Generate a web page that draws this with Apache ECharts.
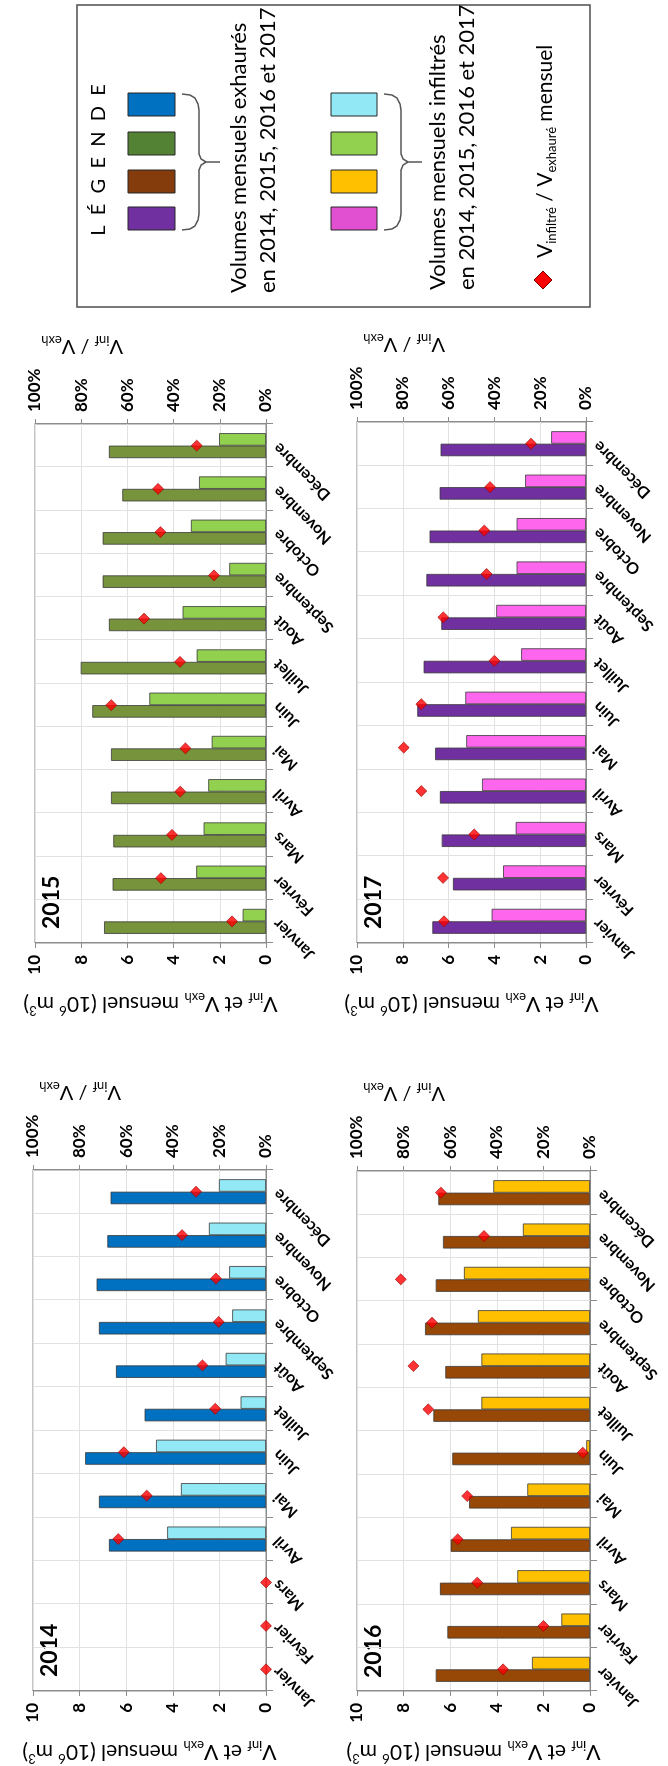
<!DOCTYPE html>
<html><head><meta charset="utf-8">
<script src="https://cdn.jsdelivr.net/npm/echarts/dist/echarts.min.js"></script>
<style>
html,body{margin:0;padding:0;width:668px;height:1766px;overflow:hidden;background:#fff;}
#chart{position:absolute;left:0;top:0;width:1766px;height:668px;transform-origin:0 0;transform:translate(0,1766px) rotate(-90deg);}
</style></head><body><div id="chart"></div>
<script>
// ---- data ----
const months = ['Janvier','Février','Mars','Avril','Mai','Juin','Juillet','Août','Septembre','Octobre','Novembre','Décembre'];
const volTicks = [0, 2, 4, 6, 8, 10];
const pctTicks = [0, 20, 40, 60, 80, 100];
const years = ['2014', '2015', '2016', '2017'];

const exh2014 = [null, null, null, 6.74, 7.17, 7.76, 5.21, 6.44, 7.17, 7.27, 6.81, 6.67];
const inf2014 = [null, null, null, 4.24, 3.65, 4.72, 1.09, 1.73, 1.45, 1.58, 2.45, 2.02];
const ratio2014 = [0, 0, 0, 63.4, 51.2, 61, 21.8, 27.3, 20.3, 21.5, 36, 30];

const exh2015 = [7.01, 6.64, 6.61, 6.71, 6.71, 7.52, 8.02, 6.8, 7.07, 7.07, 6.22, 6.8];
const inf2015 = [1.01, 3.02, 2.7, 2.5, 2.35, 5.05, 3.0, 3.61, 1.59, 3.25, 2.9, 2.03];
const ratio2015 = [14.7, 45.5, 40.7, 37.1, 34.9, 67, 37.2, 52.8, 22.5, 45.7, 46.7, 30];

const exh2016 = [6.62, 6.12, 6.44, 5.98, 5.19, 5.91, 6.72, 6.21, 7.08, 6.62, 6.31, 6.51];
const inf2016 = [2.49, 1.23, 3.12, 3.39, 2.69, 0.16, 4.66, 4.66, 4.81, 5.41, 2.88, 4.15];
const ratio2016 = [37.3, 20, 48.4, 56.8, 52.7, 3.1, 69.4, 75.8, 67.8, 81.2, 45.5, 64];

const exh2017 = [6.71, 5.81, 6.30, 6.38, 6.59, 7.37, 7.09, 6.32, 6.97, 6.83, 6.39, 6.35];
const inf2017 = [4.12, 3.62, 3.07, 4.54, 5.23, 5.27, 2.83, 3.92, 3.03, 3.03, 2.66, 1.52];
const ratio2017 = [62, 62.4, 48.8, 71.9, 79.6, 71.9, 40, 62.3, 43.4, 44.4, 41.9, 24];

// ---- styling / layout ----
const FONT = 'Lato, "Open Sans", "DejaVu Sans", sans-serif';
const AX = '#8c8c8c';
const GRIDLINE = '#e2e2e2';
const panels = [
  {year: years[0], exh: exh2014, inf: inf2014, ratio: ratio2014, cExh: '#0070C0', cInf: '#92E9F5', g: {left: 75, top: 33, width: 521, height: 233}},
  {year: years[1], exh: exh2015, inf: inf2015, ratio: ratio2015, cExh: '#77933C', cInf: '#92D050', g: {left: 823, top: 35, width: 519, height: 231}},
  {year: years[2], exh: exh2016, inf: inf2016, ratio: ratio2016, cExh: '#974706', cInf: '#FFC000', g: {left: 74, top: 357, width: 521, height: 233}},
  {year: years[3], exh: exh2017, inf: inf2017, ratio: ratio2017, cExh: '#7030A0', cInf: '#FF66EE', g: {left: 823, top: 357, width: 521, height: 229}}
];

const richName = {
  a: {fontSize: 21, fontFamily: FONT, color: '#000', lineHeight: 26},
  s: {fontSize: 13, fontFamily: FONT, color: '#000', verticalAlign: 'bottom'},
  p: {fontSize: 13, fontFamily: FONT, color: '#000', verticalAlign: 'top'}
};

const grid = [], xAxis = [], yAxis = [], series = [], graphic = [];
panels.forEach((P, i) => {
  grid.push(Object.assign({show: true, borderColor: AX, borderWidth: 1, backgroundColor: 'transparent'}, P.g));
  xAxis.push({
    gridIndex: i, type: 'category', data: months, boundaryGap: true,
    axisLine: {show: true, lineStyle: {color: AX}},
    axisTick: {show: true, length: 7, lineStyle: {color: AX}},
    axisLabel: {interval: 0, rotate: 45, fontFamily: FONT, fontWeight: 'bold', fontSize: 16, color: '#000', margin: 10},
    splitLine: {show: true, lineStyle: {color: GRIDLINE}}
  });
  yAxis.push({
    gridIndex: i, type: 'value', position: 'left',
    min: volTicks[0], max: volTicks[volTicks.length - 1], interval: volTicks[1] - volTicks[0],
    axisLine: {show: true, lineStyle: {color: AX}},
    axisTick: {show: true, length: 5, lineStyle: {color: AX}},
    axisLabel: {fontFamily: FONT, fontWeight: 'bold', fontSize: 17, color: '#000', margin: 12},
    splitLine: {show: true, lineStyle: {color: GRIDLINE}},
    name: '{a|V}{s|inf}{a| et V}{s|exh}{a| mensuel (10}{p|6}{a| m}{p|3}{a|)}',
    nameLocation: 'middle', nameGap: 48, nameRotate: 90,
    nameTextStyle: {fontFamily: FONT, fontSize: 21, color: '#000', rich: richName}
  });
  yAxis.push({
    gridIndex: i, type: 'value', position: 'right',
    min: pctTicks[0], max: pctTicks[pctTicks.length - 1], interval: pctTicks[1] - pctTicks[0],
    axisLine: {show: true, lineStyle: {color: AX}},
    axisTick: {show: true, length: 5, lineStyle: {color: AX}},
    axisLabel: {formatter: '{value}%', fontFamily: FONT, fontWeight: 'bold', fontSize: 17, color: '#000', margin: 12},
    splitLine: {show: false}
  });
  series.push({
    type: 'bar', xAxisIndex: i, yAxisIndex: 2 * i, data: P.exh, barWidth: 12.5, barGap: '0%',
    itemStyle: {color: P.cExh, borderColor: '#3a3a3a', borderWidth: 0.8}
  });
  series.push({
    type: 'bar', xAxisIndex: i, yAxisIndex: 2 * i, data: P.inf, barWidth: 12.5, barGap: '0%',
    itemStyle: {color: P.cInf, borderColor: '#3a3a3a', borderWidth: 0.8}
  });
  series.push({
    type: 'scatter', xAxisIndex: i, yAxisIndex: 2 * i + 1, data: P.ratio, symbol: 'diamond', symbolSize: 11, z: 5,
    itemStyle: {color: '#FF0000', borderColor: '#9a0000', borderWidth: 0.8}
  });
  graphic.push({type: 'text', x: P.g.left + 14, y: P.g.top + 5,
    style: {text: P.year, font: 'bold 23px ' + FONT, fill: '#000', align: 'left', verticalAlign: 'top'}});
  graphic.push({type: 'text', x: P.g.left + P.g.width + 78, y: P.g.top + 88, rotation: Math.PI / 2,
    style: {text: '{a|V}{s|inf}{a| / V}{s|exh}', fill: '#000', align: 'left', verticalAlign: 'middle',
      font: '20px ' + FONT,
      rich: {a: {fontSize: 20, fontFamily: FONT, fill: '#000', lineHeight: 25},
             s: {fontSize: 13, fontFamily: FONT, fill: '#000', verticalAlign: 'bottom'}}}});
});

// ---- legend (drawn as graphic) ----
const LX = 1459, LY = 77, LW = 302, LH = 513;
graphic.push({type: 'rect', shape: {x: LX, y: LY, width: LW, height: LH}, style: {fill: 'none', stroke: '#4d4d4d', lineWidth: 1.5}});
graphic.push({type: 'text', x: 1606, y: 99, style: {text: 'L  É  G  E  N  D  E', font: '20px ' + FONT, fill: '#000', align: 'center', verticalAlign: 'middle'}});
const swX = [1536, 1573, 1611, 1650];
const exhSw = ['#7030A0', '#843C0C', '#548235', '#0070C0'];
const infSw = ['#E050D0', '#FFC000', '#92D050', '#92E9F5'];
swX.forEach((x, k) => {
  graphic.push({type: 'rect', shape: {x: x, y: 128, width: 23, height: 47}, style: {fill: exhSw[k], stroke: '#262626', lineWidth: 1}});
  graphic.push({type: 'rect', shape: {x: x, y: 331, width: 23, height: 46}, style: {fill: infSw[k], stroke: '#262626', lineWidth: 1}});
});
function brace(y0) {
  const L = [[1536, y0], [1537, y0 + 8], [1540, y0 + 13], [1546, y0 + 16], [1552, y0 + 17], [1596, y0 + 17], [1601, y0 + 19], [1604, y0 + 24], [1604, y0 + 38]];
  const R = [[1604, y0 + 24], [1607, y0 + 19], [1612, y0 + 17], [1656, y0 + 17], [1662, y0 + 16], [1668, y0 + 13], [1671, y0 + 8], [1672, y0]];
  graphic.push({type: 'polyline', shape: {points: L}, style: {stroke: '#555', lineWidth: 1.5, fill: null}});
  graphic.push({type: 'polyline', shape: {points: R}, style: {stroke: '#555', lineWidth: 1.5, fill: null}});
}
brace(182); brace(384);
graphic.push({type: 'text', x: 1473, y: 253, style: {text: 'Volumes mensuels exhaurés\nen 2014, 2015, 2016 et 2017', font: '22px ' + FONT, fill: '#000', align: 'left', verticalAlign: 'middle', lineHeight: 29}});
graphic.push({type: 'text', x: 1476, y: 452, style: {text: 'Volumes mensuels infiltrés\nen 2014, 2015, 2016 et 2017', font: '22px ' + FONT, fill: '#000', align: 'left', verticalAlign: 'middle', lineHeight: 29}});
graphic.push({type: 'polygon', shape: {points: [[1486, 534], [1495, 543], [1486, 552], [1477, 543]]}, style: {fill: '#FF0000', stroke: '#7a0000', lineWidth: 1}});
graphic.push({type: 'text', x: 1508, y: 545, style: {text: '{a|V}{s|infiltré}{a| / V}{s|exhauré}{a| mensuel}', font: '21px ' + FONT, fill: '#000', align: 'left', verticalAlign: 'middle',
  rich: {a: {fontSize: 21, fontFamily: FONT, fill: '#000', lineHeight: 26}, s: {fontSize: 13, fontFamily: FONT, fill: '#000', verticalAlign: 'bottom'}}}});

const chart = echarts.init(document.getElementById('chart'), null, {width: 1766, height: 668});
chart.setOption({
  animation: false,
  backgroundColor: '#fff',
  textStyle: {fontFamily: FONT},
  grid: grid, xAxis: xAxis, yAxis: yAxis, series: series, graphic: graphic
});
</script></body></html>
